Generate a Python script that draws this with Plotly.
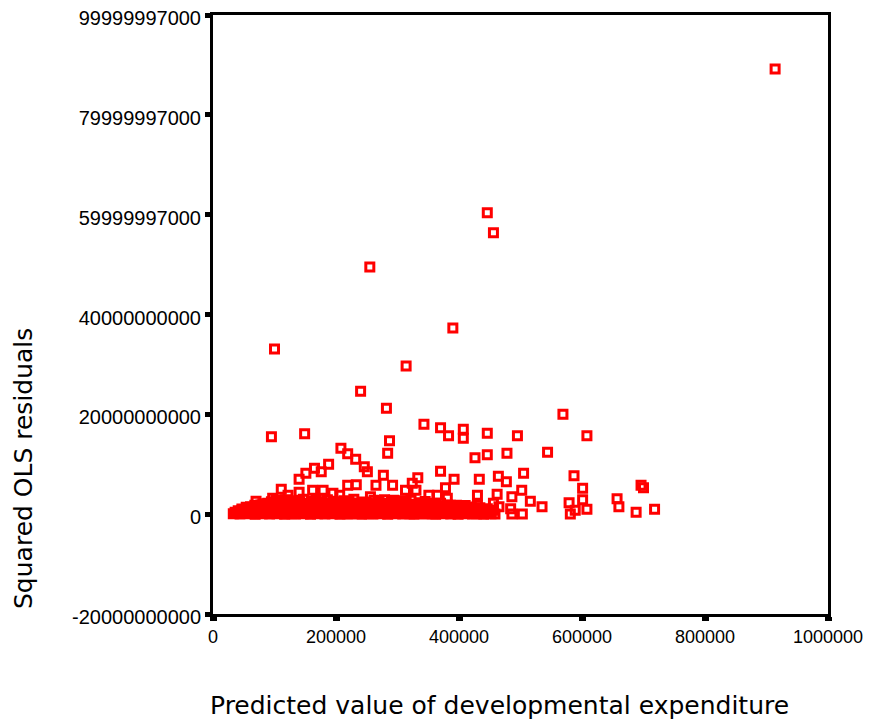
import plotly.graph_objects as go

# ---- sparse points (predicted value, squared OLS residual) ----
pred_sparse = [914000, 446000, 456000, 255000, 390000, 100000, 314000, 240000, 282000, 569000,
               343000, 370000, 407000, 149000, 446000, 383000, 495000, 608000, 95000, 407000,
               287000, 208000, 544000, 478000, 284000, 219000, 446000, 426000, 232000, 188000,
               246000, 165000, 370000, 251000, 176000, 505000, 151000, 277000, 587000, 464000,
               333000, 392000, 433000, 140000, 477000, 324000, 233000, 219000, 292000, 265000,
               696000, 700000, 378000, 601000, 111000, 313000, 330000, 502000, 162000, 179000,
               140000, 195000, 462000, 206000, 122000, 430000, 351000, 365000, 486000, 256000,
               97000, 381000, 657000, 601000, 294000, 70000, 516000, 579000, 456000, 386000,
               430000, 535000, 660000, 465000, 389000, 405000, 446000, 484000, 608000, 718000,
               589000, 456000, 688000, 581000, 486000, 503000]
resid_sparse = [8.92e10, 6.04e10, 5.64e10, 4.95e10, 3.73e10, 3.31e10, 2.97e10, 2.46e10, 2.12e10, 2.00e10,
                1.80e10, 1.73e10, 1.70e10, 1.61e10, 1.62e10, 1.57e10, 1.57e10, 1.57e10, 1.55e10, 1.52e10,
                1.47e10, 1.32e10, 1.24e10, 1.22e10, 1.22e10, 1.21e10, 1.19e10, 1.13e10, 1.10e10, 1.00e10,
                9.5e9, 9.2e9, 8.6e9, 8.5e9, 8.5e9, 8.2e9, 8.2e9, 7.8e9, 7.7e9, 7.6e9,
                7.3e9, 7.0e9, 7.0e9, 7.0e9, 6.5e9, 6.2e9, 5.9e9, 5.8e9, 5.8e9, 5.8e9,
                5.8e9, 5.3e9, 5.3e9, 5.2e9, 5.0e9, 4.8e9, 4.8e9, 4.8e9, 4.8e9, 4.8e9,
                4.4e9, 4.2e9, 4.0e9, 3.8e9, 3.8e9, 3.8e9, 3.8e9, 3.8e9, 3.5e9, 3.5e9,
                3.2e9, 3.2e9, 3.1e9, 2.9e9, 2.8e9, 2.6e9, 2.6e9, 2.3e9, 2.2e9, 1.8e9,
                1.8e9, 1.5e9, 1.5e9, 1.5e9, 1.5e9, 1.1e9, 1.1e9, 1.1e9, 1.0e9, 1.0e9,
                0.8e9, 0.8e9, 0.4e9, 0.05e9, 0.05e9, 0.05e9]

# ---- dense cluster near zero ----
pred_band1 = [33000, 38500, 44000, 50500, 56000, 62000, 68500, 74000, 80000, 86500, 92000, 98500,
              104000, 110000, 116500, 122000, 128500, 134000, 140000, 146500, 152000, 158500, 164000,
              170000, 176500, 182000, 188500, 194000, 200000, 206500, 212000, 218500, 224000, 230000,
              236500, 242000, 248500, 254000, 260000, 266500, 272000, 278500, 284000, 290000, 296500,
              302000, 308500, 314000, 320000, 326500, 332000, 338500, 344000, 350000, 356500, 362000,
              368500, 374000, 380000, 386500, 392000, 398500, 404000, 410000, 416500, 422000, 428500,
              434000, 440000, 446500, 452000, 458500]
resid_band1 = [0.1e9, 0.2e9, 0.05e9, 0.15e9, 0.3e9, 0.1e9, 0.0e9, 0.2e9, 0.1e9, 0.25e9, 0.05e9, 0.15e9,
               0.1e9, 0.3e9, 0.0e9, 0.2e9, 0.1e9, 0.05e9, 0.25e9, 0.1e9, 0.15e9, 0.0e9, 0.2e9,
               0.1e9, 0.3e9, 0.05e9, 0.15e9, 0.1e9, 0.2e9, 0.0e9, 0.25e9, 0.1e9, 0.05e9, 0.2e9,
               0.15e9, 0.0e9, 0.3e9, 0.1e9, 0.05e9, 0.2e9, 0.1e9, 0.25e9, 0.0e9, 0.15e9, 0.1e9,
               0.2e9, 0.05e9, 0.3e9, 0.1e9, 0.0e9, 0.2e9, 0.15e9, 0.05e9, 0.25e9, 0.1e9, 0.0e9,
               0.2e9, 0.1e9, 0.3e9, 0.05e9, 0.15e9, 0.0e9, 0.2e9, 0.1e9, 0.25e9, 0.05e9, 0.1e9,
               0.2e9, 0.0e9, 0.15e9, 0.1e9, 0.05e9]

pred_band1b = [36000, 42500, 49000, 55000, 61500, 68000, 74500, 81000, 87000, 93500, 100000, 106500,
               113000, 119000, 125500, 132000, 138500, 145000, 151000, 157500, 164000, 170500, 177000,
               183000, 189500, 196000, 202500, 209000, 215000, 221500, 228000, 234500, 241000, 247000,
               253500, 260000, 266500, 273000, 279000, 285500, 292000, 298500, 305000, 311000, 317500,
               324000, 330500, 337000, 343000, 349500, 356000, 362500, 369000, 375000, 381500, 388000,
               394500, 401000, 407000, 413500, 420000, 426500, 433000, 439000, 445500, 452000]
resid_band1b = [0.4e9, 0.45e9, 0.35e9, 0.5e9, 0.4e9, 0.45e9, 0.35e9, 0.4e9, 0.5e9, 0.4e9, 0.35e9, 0.45e9,
                0.4e9, 0.5e9, 0.35e9, 0.45e9, 0.4e9, 0.5e9, 0.35e9, 0.4e9, 0.45e9, 0.5e9, 0.35e9,
                0.4e9, 0.45e9, 0.35e9, 0.5e9, 0.4e9, 0.45e9, 0.35e9, 0.4e9, 0.5e9, 0.45e9, 0.35e9,
                0.4e9, 0.5e9, 0.45e9, 0.35e9, 0.4e9, 0.45e9, 0.5e9, 0.35e9, 0.4e9, 0.45e9, 0.35e9,
                0.5e9, 0.4e9, 0.45e9, 0.35e9, 0.4e9, 0.5e9, 0.45e9, 0.35e9, 0.4e9, 0.45e9, 0.5e9,
                0.35e9, 0.4e9, 0.45e9, 0.35e9, 0.5e9, 0.4e9, 0.45e9, 0.35e9, 0.4e9, 0.5e9]

pred_band2 = [41000, 47000, 53500, 59000, 65000, 71500, 77000, 83000, 89500, 95000, 101000, 107500,
              113000, 119000, 125500, 131000, 137000, 143500, 149000, 155000, 161500, 167000, 173000,
              179500, 185000, 191000, 197500, 203000, 209000, 215500, 221000, 227000, 233500, 239000,
              245000, 251500, 257000, 263000, 269500, 275000, 281000, 287500, 293000, 299000, 305500,
              311000, 317000, 323500, 329000, 335000, 341500, 347000, 353000, 359500, 365000, 371000,
              377500, 383000, 389000, 395500, 401000, 407000, 413500, 419000, 425000, 431500, 437000,
              443000, 449500]
resid_band2 = [0.7e9, 0.8e9, 0.6e9, 0.9e9, 0.7e9, 0.8e9, 0.65e9, 0.75e9, 0.9e9, 0.6e9, 0.8e9, 0.7e9,
               0.85e9, 0.6e9, 0.75e9, 0.9e9, 0.7e9, 0.8e9, 0.65e9, 0.85e9, 0.7e9, 0.9e9, 0.6e9,
               0.8e9, 0.7e9, 0.75e9, 0.9e9, 0.65e9, 0.8e9, 0.7e9, 0.85e9, 0.6e9, 0.75e9, 0.9e9,
               0.7e9, 0.8e9, 0.65e9, 0.85e9, 0.7e9, 0.9e9, 0.6e9, 0.8e9, 0.75e9, 0.7e9, 0.85e9,
               0.65e9, 0.8e9, 0.9e9, 0.7e9, 0.75e9, 0.6e9, 0.85e9, 0.7e9, 0.8e9, 0.9e9, 0.65e9,
               0.75e9, 0.8e9, 0.7e9, 0.85e9, 0.6e9, 0.9e9, 0.7e9, 0.8e9, 0.65e9, 0.75e9, 0.85e9,
               0.7e9, 0.6e9]

pred_band2b = [47000, 54500, 62000, 69000, 76500, 84000, 91000, 98500, 106000, 113000, 120500, 128000,
               135000, 142500, 150000, 157000, 164500, 172000, 179000, 186500, 194000, 201000, 208500,
               216000, 223000, 230500, 238000, 245000, 252500, 260000, 267000, 274500, 282000, 289000,
               296500, 304000, 311000, 318500, 326000, 333000, 340500, 348000, 355000, 362500, 377000,
               384500, 399000, 406500, 421000, 428000]
resid_band2b = [1.05e9, 1.1e9, 1.0e9, 1.15e9, 1.05e9, 1.0e9, 1.1e9, 1.05e9, 1.15e9, 1.0e9, 1.1e9, 1.05e9,
                1.0e9, 1.15e9, 1.05e9, 1.1e9, 1.0e9, 1.05e9, 1.15e9, 1.1e9, 1.0e9, 1.05e9, 1.1e9,
                1.15e9, 1.0e9, 1.05e9, 1.1e9, 1.0e9, 1.15e9, 1.05e9, 1.1e9, 1.0e9, 1.05e9, 1.15e9,
                1.1e9, 1.0e9, 1.05e9, 1.1e9, 1.15e9, 1.0e9, 1.05e9, 1.1e9, 1.0e9, 1.15e9, 1.05e9,
                1.1e9, 1.0e9, 1.05e9, 1.1e9, 1.0e9]

pred_band3 = [54000, 61000, 67500, 75000, 81500, 88000, 95500, 102000, 109000, 116000, 122500, 130000,
              136500, 143000, 150500, 157000, 164000, 171000, 177500, 185000, 191500, 198000, 205500,
              212000, 219000, 226000, 232500, 240000, 246500, 253000, 260500, 267000, 274000, 281000,
              287500, 295000, 301500, 308000, 315500, 322000, 329000, 343000, 350500, 357000, 371000,
              378000, 392500, 399000, 413000, 420000, 434000]
resid_band3 = [1.4e9, 1.5e9, 1.3e9, 1.6e9, 1.4e9, 1.5e9, 1.35e9, 1.6e9, 1.45e9, 1.3e9, 1.55e9, 1.4e9,
               1.6e9, 1.35e9, 1.5e9, 1.45e9, 1.3e9, 1.6e9, 1.4e9, 1.5e9, 1.35e9, 1.55e9, 1.45e9,
               1.3e9, 1.6e9, 1.4e9, 1.5e9, 1.35e9, 1.55e9, 1.45e9, 1.3e9, 1.6e9, 1.4e9, 1.5e9,
               1.35e9, 1.55e9, 1.45e9, 1.3e9, 1.6e9, 1.4e9, 1.5e9, 1.35e9, 1.55e9, 1.45e9, 1.3e9,
               1.6e9, 1.4e9, 1.5e9, 1.35e9, 1.45e9, 1.3e9]

pred_band3b = [68000, 78000, 86000, 94000, 103000, 111000, 120000, 128000, 137000, 145000, 154000, 162000,
               171000, 179000, 188000, 196000, 205000, 213000, 222000, 230000, 239000, 247000, 256000,
               264000, 273000, 281000, 290000, 298000, 307000, 315000, 324000, 332000, 346000, 362000,
               381000, 396000, 410000]
resid_band3b = [1.8e9, 1.85e9, 1.75e9, 1.9e9, 1.8e9, 1.75e9, 1.85e9, 1.9e9, 1.8e9, 1.75e9, 1.85e9, 1.8e9,
                1.9e9, 1.75e9, 1.8e9, 1.85e9, 1.9e9, 1.75e9, 1.8e9, 1.85e9, 1.75e9, 1.9e9, 1.8e9,
                1.85e9, 1.75e9, 1.8e9, 1.9e9, 1.85e9, 1.75e9, 1.8e9, 1.85e9, 1.9e9, 1.8e9, 1.75e9,
                1.85e9, 1.8e9, 1.75e9]

pred_band4 = [81000, 89000, 98000, 106000, 115000, 123000, 132000, 140000, 149000, 157000, 166000,
              174000, 183000, 191000, 200000, 208000, 217000, 225000, 234000, 242000, 251000, 259000,
              268000, 276000, 285000, 293000, 302000, 310000, 319000, 336000, 353000, 370000]
resid_band4 = [2.1e9, 2.2e9, 2.0e9, 2.3e9, 2.1e9, 2.2e9, 2.0e9, 2.3e9, 2.15e9, 2.05e9, 2.25e9,
               2.1e9, 2.2e9, 2.0e9, 2.3e9, 2.1e9, 2.2e9, 2.05e9, 2.25e9, 2.1e9, 2.2e9, 2.0e9,
               2.3e9, 2.15e9, 2.05e9, 2.25e9, 2.1e9, 2.2e9, 2.0e9, 2.3e9, 2.1e9, 2.2e9]

pred_band4b = [95000, 110000, 126000, 141000, 160000, 177000, 196000, 221000, 245000, 270000, 290000,
               314000, 345000]
resid_band4b = [2.5e9, 2.55e9, 2.45e9, 2.5e9, 2.6e9, 2.45e9, 2.5e9, 2.55e9, 2.45e9, 2.6e9, 2.5e9,
                2.45e9, 2.55e9]

pred_band5 = [103000, 118000, 131000, 147000, 168000, 186000, 213000, 229000, 262000, 279000, 305000, 322000]
resid_band5 = [2.8e9, 2.9e9, 2.7e9, 3.0e9, 2.8e9, 2.9e9, 2.7e9, 3.0e9, 2.8e9, 2.9e9, 2.7e9, 2.8e9]

# ---- axis ticks ----
x_tickvals = [0, 200000, 400000, 600000, 800000, 1000000]
x_ticktext = ["0", "200000", "400000", "600000", "800000", "1000000"]
y_tickvals = [-20000000000, 0, 20000000000, 40000000000, 59999997000, 79999997000, 99999997000]
y_ticktext = ["-20000000000", "0", "20000000000", "40000000000", "59999997000", "79999997000", "99999997000"]

x_title = "Predicted value of developmental expenditure"
y_title = "Squared OLS residuals"

all_x = (pred_band1 + pred_band1b + pred_band2 + pred_band2b + pred_band3 + pred_band3b +
         pred_band4 + pred_band4b + pred_band5 + pred_sparse)
all_y = (resid_band1 + resid_band1b + resid_band2 + resid_band2b + resid_band3 + resid_band3b +
         resid_band4 + resid_band4b + resid_band5 + resid_sparse)

fig = go.Figure()
fig.add_trace(go.Scatter(
    x=all_x, y=all_y, mode="markers",
    marker=dict(symbol="square-open", size=8, color="#FF0000",
                line=dict(color="#FF0000", width=3)),
    showlegend=False, hoverinfo="x+y", cliponaxis=False))

# page offset of the plot div (body margin) is about 8 px
OFF = 8
W, H = 875, 725
L, T = 213 - OFF, 15 - OFF
R = W - (828 - OFF)
B = H - (614 - OFF)
pw, ph = W - L - R, H - T - B


def px_to_paper(px, py):
    return ((px - OFF) - L) / pw, (H - B - (py - OFF)) / ph


xt_x, xt_y = px_to_paper(499.5, 705)
yt_x, yt_y = px_to_paper(23, 469)

fig.update_layout(
    width=W, height=H,
    margin=dict(l=L, r=R, t=T, b=B, autoexpand=False),
    plot_bgcolor="white", paper_bgcolor="white",
    showlegend=False,
    annotations=[
        dict(text=x_title, xref="paper", yref="paper", x=xt_x, y=xt_y,
             xanchor="center", yanchor="middle", showarrow=False,
             font=dict(family="DejaVu Sans", size=25, color="black")),
        dict(text=y_title, xref="paper", yref="paper", x=yt_x, y=yt_y, textangle=-90,
             xanchor="center", yanchor="middle", showarrow=False,
             font=dict(family="DejaVu Sans", size=25, color="black")),
    ],
)
fig.update_xaxes(
    range=[0, 1000000], tickmode="array", tickvals=x_tickvals, ticktext=x_ticktext,
    ticks="outside", ticklen=4, tickwidth=7, tickcolor="black",
    showline=True, linewidth=3, linecolor="black", mirror=True,
    showgrid=False, zeroline=False, automargin=False, ticklabeloverflow="allow",
    tickfont=dict(family="Liberation Sans", size=18, color="black"))
fig.update_yaxes(
    range=[-20000000000, 99999997000], tickmode="array", tickvals=y_tickvals, ticktext=y_ticktext,
    ticks="outside", ticklen=5, tickwidth=5, tickcolor="black",
    showline=True, linewidth=3, linecolor="black", mirror=True,
    showgrid=False, zeroline=False, automargin=False, ticklabeloverflow="allow",
    ticklabelshift=3,
    tickfont=dict(family="Liberation Sans", size=20, color="black"))

fig.write_html("out.html")
